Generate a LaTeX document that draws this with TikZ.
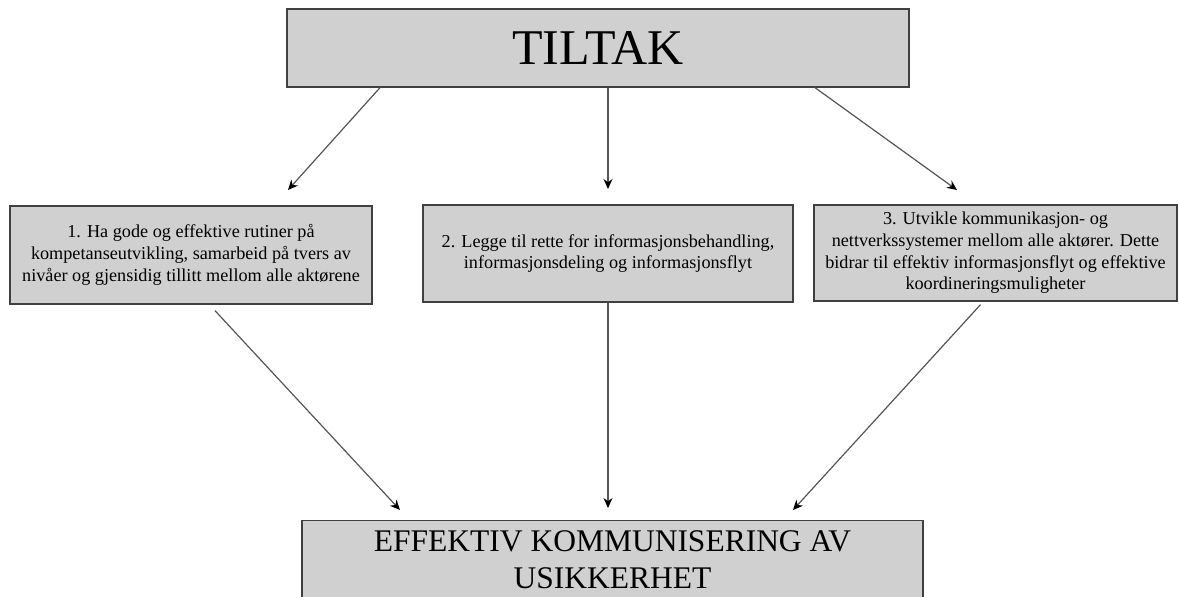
\documentclass[tikz,border=0pt]{standalone}
\usepackage{fontspec}
\setmainfont{Liberation Serif}
\usetikzlibrary{arrows.meta}

\definecolor{boxfill}{HTML}{D0D0D0}
\definecolor{boxline}{HTML}{404040}
\definecolor{arrowline}{HTML}{555555}

\begin{document}
\begin{tikzpicture}[x=1pt, y=-1pt,
    boks/.style={draw=boxline, fill=boxfill, line width=1.3pt, align=center, inner sep=0pt},
    liten/.style={boks, minimum height=97pt, font=\fontsize{18.2}{21.7}\selectfont},
    pil/.style={draw=arrowline, line width=1.2pt, -{Stealth[length=10pt, width=9pt, color=black]}}
]

\useasboundingbox (0,0) rectangle (1179,597);

\node[boks, minimum width=622pt, minimum height=78pt, font=\fontsize{50}{56}\selectfont] (tiltak) at (598,48) {TILTAK};

\node[liten, minimum width=362pt, minimum height=98pt] (rutiner) at (191,255) {1. Ha gode og effektive rutiner på\\kompetanseutvikling, samarbeid på tvers av\\nivåer og gjensidig tillitt mellom alle aktørene};
\node[liten, minimum width=370pt] (info) at (608,253.5) {2. Legge til rette for informasjonsbehandling,\\informasjonsdeling og informasjonsflyt};
\node[liten, minimum width=363pt, minimum height=96pt] (nettverk) at (995.5,253) {3. Utvikle kommunikasjon- og\\nettverkssystemer mellom alle aktører. Dette\\bidrar til effektiv informasjonsflyt og effektive\\koordineringsmuligheter};

\node[boks, anchor=north, minimum width=621pt, inner ysep=10pt, font=\fontsize{31.5}{37}\selectfont] (effektiv) at (612.5,520) {EFFEKTIV KOMMUNISERING AV\\USIKKERHET};

% arrow tips
\coordinate (p1) at (288,190);
\coordinate (p2) at (608,189);
\coordinate (p3) at (957,190);
\coordinate (p4) at (400,510);
\coordinate (p5) at (608,508);
\coordinate (p6) at (793,510);

\draw[pil] ([xshift=-218pt]tiltak.south) -- (p1);
\draw[pil] ([xshift=10pt]tiltak.south) -- (p2);
\draw[pil] ([xshift=217pt]tiltak.south) -- (p3);

\draw[pil] ([xshift=24pt,yshift=-6pt]rutiner.south) -- (p4);
\draw[pil] (info.south) -- (p5);
\draw[pil] ([xshift=-15pt,yshift=-3pt]nettverk.south) -- (p6);

\end{tikzpicture}
\end{document}
